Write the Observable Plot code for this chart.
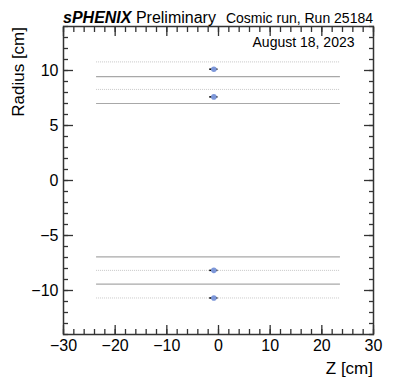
<!DOCTYPE html>
<html>
<head>
<meta charset="utf-8">
<script src="https://cdn.jsdelivr.net/npm/d3@7"></script>
<script src="https://cdn.jsdelivr.net/npm/@observablehq/plot@0.6"></script>
<style>
  body { margin: 0; background: #fff; }
  #chart svg { display: block; }
</style>
</head>
<body>
<div id="chart"></div>
<script>
// ---- data ----
const solidRadii = [7.0, 9.45, -6.95, -9.42];
const dottedRadii = [10.78, 8.28, -8.17, -10.68];
const lineZStart = -23.6;
const lineZEnd = 23.6;
const hitZ = [-0.9, -0.9, -0.9, -0.9];
const hitR = [10.12, 7.6, -8.17, -10.68];
const hitZErr = [0.8, 0.8, 0.8, 0.8];
const xMajorTicks = [-30, -20, -10, 0, 10, 20, 30];
const xMinorTicks = d3.range(-30, 31, 2);
const yMajorTicks = [-10, -5, 0, 5, 10];
const yMinorTicks = d3.range(-14, 15, 1);
const titleBold = "sPHENIX";
const titleRest = "Preliminary";
const subtitle = "Cosmic run, Run 25184";
const dateLabel = "August 18, 2023";
const xLabel = "Z [cm]";
const yLabel = "Radius [cm]";

const solidLines = solidRadii.map(r => ({r, z1: lineZStart, z2: lineZEnd}));
const dottedLines = dottedRadii.map(r => ({r, z1: lineZStart, z2: lineZEnd}));
const hits = hitZ.map((z, i) => ({z, r: hitR[i], lo: z - hitZErr[i], hi: z + hitZErr[i]}));

const font = "'Liberation Sans', Arial, Helvetica, sans-serif";
const axisColor = "#333";

const plot = Plot.plot({
  width: 393,
  height: 381,
  marginLeft: 63,
  marginRight: 20,
  marginTop: 26,
  marginBottom: 47,
  style: {fontFamily: font, fontSize: "16px", background: "#fff", color: "#000"},
  x: {domain: [-30, 30], label: null},
  y: {domain: [-14, 14], label: null},
  marks: [
    Plot.ruleY(dottedLines, {y: "r", x1: "z1", x2: "z2", stroke: "#c8c8c8", strokeWidth: 1, strokeDasharray: "1,1"}),
    Plot.ruleY(solidLines, {y: "r", x1: "z1", x2: "z2", stroke: "#a8a8a8", strokeWidth: 1.2}),
    Plot.ruleY(hits, {y: "r", x1: "lo", x2: "hi", stroke: "#000", strokeWidth: 1.5}),
    Plot.dot(hits, {x: "z", y: "r", r: 2.8, fill: "#7d97d9", stroke: "none"}),
    // inward ticks
    Plot.axisX({anchor: "bottom", ticks: xMajorTicks, tickSize: -9, text: null, stroke: axisColor, strokeWidth: 1.3}),
    Plot.axisX({anchor: "bottom", ticks: xMinorTicks, tickSize: -5, text: null, stroke: axisColor, strokeWidth: 1.3}),
    Plot.axisX({anchor: "top", ticks: xMajorTicks, tickSize: -9, text: null, stroke: axisColor, strokeWidth: 1.3}),
    Plot.axisX({anchor: "top", ticks: xMinorTicks, tickSize: -5, text: null, stroke: axisColor, strokeWidth: 1.3}),
    Plot.axisY({anchor: "left", ticks: yMajorTicks, tickSize: -10, text: null, stroke: axisColor, strokeWidth: 1.3}),
    Plot.axisY({anchor: "left", ticks: yMinorTicks, tickSize: -5, text: null, stroke: axisColor, strokeWidth: 1.3}),
    Plot.axisY({anchor: "right", ticks: yMajorTicks, tickSize: -10, text: null, stroke: axisColor, strokeWidth: 1.3}),
    Plot.axisY({anchor: "right", ticks: yMinorTicks, tickSize: -5, text: null, stroke: axisColor, strokeWidth: 1.3}),
    // tick labels
    Plot.axisX({anchor: "bottom", ticks: xMajorTicks, tickSize: 0, tickPadding: 5, fontSize: 16, label: null}),
    Plot.axisY({anchor: "left", ticks: yMajorTicks, tickSize: 0, tickPadding: 5, fontSize: 16, label: null}),
    Plot.frame({stroke: axisColor, strokeWidth: 1.5}),
    Plot.text([dateLabel], {text: d => d, frameAnchor: "top-right", dx: -19, dy: 20, lineAnchor: "bottom", textAnchor: "end", fontSize: 14})
  ]
});

const svg = d3.select(plot);
const title = svg.append("text")
  .attr("x", 63).attr("y", 23).attr("text-anchor", "start")
  .attr("font-family", font).attr("fill", "#000");
title.append("tspan").attr("font-size", 16).attr("font-weight", "bold").attr("font-style", "italic").text(titleBold);
title.append("tspan").attr("font-size", 16).text(" " + titleRest);
svg.append("text")
  .attr("x", 373).attr("y", 23).attr("text-anchor", "end")
  .attr("font-family", font).attr("font-size", 14).attr("fill", "#000")
  .text(subtitle);
svg.append("text")
  .attr("x", 373).attr("y", 374).attr("text-anchor", "end")
  .attr("font-family", font).attr("font-size", 17).attr("fill", "#000")
  .text(xLabel);
svg.append("text")
  .attr("transform", "translate(24,27) rotate(-90)").attr("text-anchor", "end")
  .attr("font-family", font).attr("font-size", 17).attr("fill", "#000")
  .text(yLabel);

document.getElementById("chart").appendChild(plot);
</script>
</body>
</html>
